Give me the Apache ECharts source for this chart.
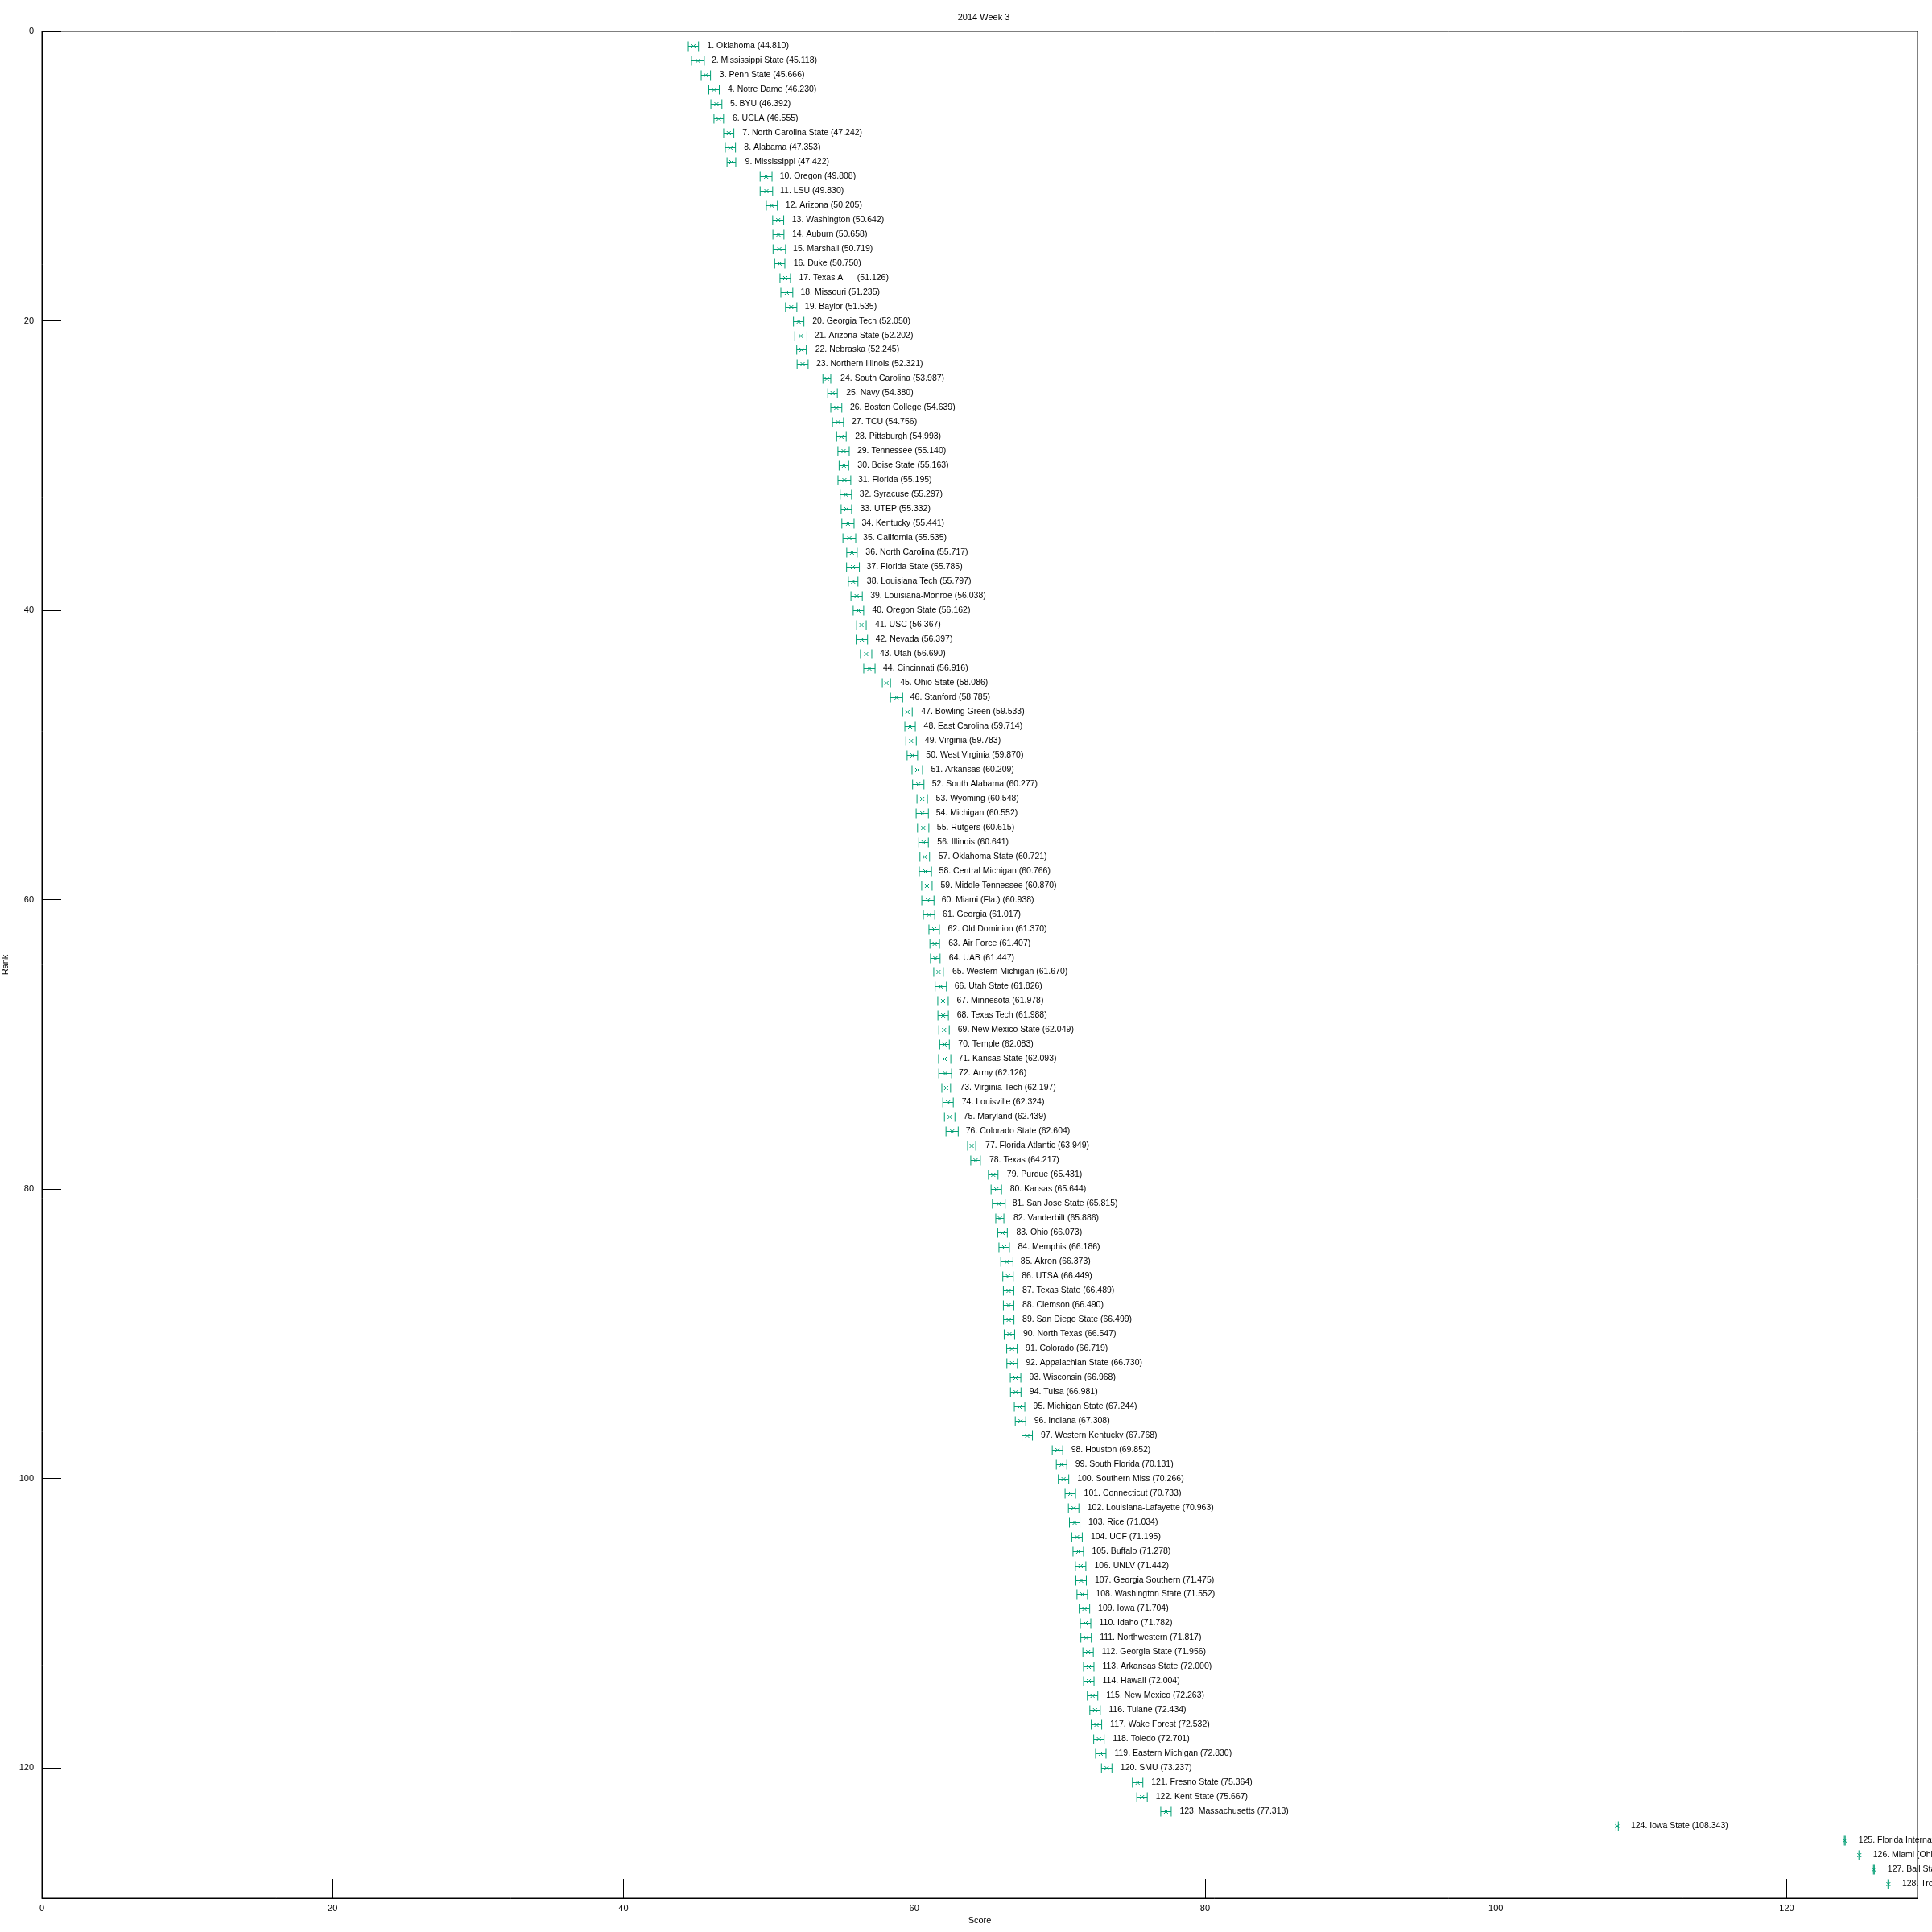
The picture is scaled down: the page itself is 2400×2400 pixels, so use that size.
<!DOCTYPE html>
<html>
<head>
<meta charset="utf-8">
<script src="https://cdn.jsdelivr.net/npm/echarts@6/dist/echarts.min.js"></script>
<style>
html,body{margin:0;padding:0;background:#fff;}
#chart{width:2400px;height:2400px;}
</style>
</head>
<body>
<div id="chart"></div>
<script>
const title = '2014 Week 3';
const tickValues = [0, 20, 40, 60, 80, 100, 120];

const ranks = [1,2,3,4,5,6,7,8,9,10,11,12,13,14,15,16,17,18,19,20,21,22,23,24,25,26,27,28,29,30,31,32,33,34,35,36,37,38,39,40,41,42,43,44,45,46,47,48,49,50,51,52,53,54,55,56,57,58,59,60,61,62,63,64,65,66,67,68,69,70,71,72,73,74,75,76,77,78,79,80,81,82,83,84,85,86,87,88,89,90,91,92,93,94,95,96,97,98,99,100,101,102,103,104,105,106,107,108,109,110,111,112,113,114,115,116,117,118,119,120,121,122,123,124,125,126,127,128];

const teams = ['Oklahoma','Mississippi State','Penn State','Notre Dame','BYU','UCLA','North Carolina State','Alabama','Mississippi','Oregon',
'LSU','Arizona','Washington','Auburn','Marshall','Duke','Texas A     ','Missouri','Baylor','Georgia Tech',
'Arizona State','Nebraska','Northern Illinois','South Carolina','Navy','Boston College','TCU','Pittsburgh','Tennessee','Boise State',
'Florida','Syracuse','UTEP','Kentucky','California','North Carolina','Florida State','Louisiana Tech','Louisiana-Monroe','Oregon State',
'USC','Nevada','Utah','Cincinnati','Ohio State','Stanford','Bowling Green','East Carolina','Virginia','West Virginia',
'Arkansas','South Alabama','Wyoming','Michigan','Rutgers','Illinois','Oklahoma State','Central Michigan','Middle Tennessee','Miami (Fla.)',
'Georgia','Old Dominion','Air Force','UAB','Western Michigan','Utah State','Minnesota','Texas Tech','New Mexico State','Temple',
'Kansas State','Army','Virginia Tech','Louisville','Maryland','Colorado State','Florida Atlantic','Texas','Purdue','Kansas',
'San Jose State','Vanderbilt','Ohio','Memphis','Akron','UTSA','Texas State','Clemson','San Diego State','North Texas',
'Colorado','Appalachian State','Wisconsin','Tulsa','Michigan State','Indiana','Western Kentucky','Houston','South Florida','Southern Miss',
'Connecticut','Louisiana-Lafayette','Rice','UCF','Buffalo','UNLV','Georgia Southern','Washington State','Iowa','Idaho',
'Northwestern','Georgia State','Arkansas State','Hawaii','New Mexico','Tulane','Wake Forest','Toledo','Eastern Michigan','SMU',
'Fresno State','Kent State','Massachusetts','Iowa State','Florida International','Miami (Ohio)','Ball State','Troy'];

const scores = [44.810,45.118,45.666,46.230,46.392,46.555,47.242,47.353,47.422,49.808,
49.830,50.205,50.642,50.658,50.719,50.750,51.126,51.235,51.535,52.050,
52.202,52.245,52.321,53.987,54.380,54.639,54.756,54.993,55.140,55.163,
55.195,55.297,55.332,55.441,55.535,55.717,55.785,55.797,56.038,56.162,
56.367,56.397,56.690,56.916,58.086,58.785,59.533,59.714,59.783,59.870,
60.209,60.277,60.548,60.552,60.615,60.641,60.721,60.766,60.870,60.938,
61.017,61.370,61.407,61.447,61.670,61.826,61.978,61.988,62.049,62.083,
62.093,62.126,62.197,62.324,62.439,62.604,63.949,64.217,65.431,65.644,
65.815,65.886,66.073,66.186,66.373,66.449,66.489,66.490,66.499,66.547,
66.719,66.730,66.968,66.981,67.244,67.308,67.768,69.852,70.131,70.266,
70.733,70.963,71.034,71.195,71.278,71.442,71.475,71.552,71.704,71.782,
71.817,71.956,72.000,72.004,72.263,72.434,72.532,72.701,72.830,73.237,
75.364,75.667,77.313,108.343,124.000,125.000,126.000,127.000];

const errors = [0.35,0.44,0.32,0.36,0.38,0.33,0.35,0.35,0.30,0.41,
0.43,0.38,0.38,0.38,0.43,0.35,0.36,0.41,0.39,0.36,
0.42,0.33,0.38,0.27,0.33,0.38,0.38,0.33,0.39,0.33,
0.44,0.39,0.36,0.42,0.44,0.36,0.44,0.33,0.39,0.36,
0.33,0.39,0.39,0.39,0.28,0.42,0.33,0.36,0.36,0.36,
0.36,0.39,0.36,0.42,0.39,0.33,0.33,0.42,0.36,0.42,
0.39,0.36,0.33,0.33,0.33,0.39,0.36,0.36,0.36,0.33,
0.42,0.44,0.30,0.36,0.36,0.42,0.28,0.33,0.33,0.36,
0.44,0.28,0.33,0.36,0.42,0.36,0.36,0.36,0.36,0.36,
0.36,0.36,0.36,0.36,0.36,0.36,0.36,0.36,0.36,0.36,
0.36,0.36,0.36,0.36,0.36,0.36,0.36,0.36,0.36,0.36,
0.36,0.36,0.36,0.36,0.36,0.36,0.36,0.36,0.36,0.36,
0.36,0.36,0.36,0.08,0.03,0.03,0.03,0.03];

const COLOR = '#009e73';
const FONT = '"Liberation Sans", Arial, sans-serif';

const labels = ranks.map((r, i) => r + '. ' + teams[i] + ' (' + scores[i].toFixed(3) + ')');
const data = scores.map((s, i) => [s, ranks[i], errors[i]]);

const chart = echarts.init(document.getElementById('chart'), null, {renderer: 'canvas'});

const axisCommon = {
  type: 'value', min: 0, max: 129,
  axisLine: {show: true, onZero: false, lineStyle: {color: '#000', width: 1}},
  axisTick: {show: true, inside: true, length: 24, customValues: tickValues, lineStyle: {color: '#000', width: 1}},
  axisLabel: {customValues: tickValues, color: '#000', fontSize: 11, fontFamily: FONT},
  splitLine: {show: false},
  nameLocation: 'middle',
  nameTextStyle: {color: '#000', fontSize: 11, fontFamily: FONT}
};

chart.setOption({
  animation: false,
  backgroundColor: '#fff',
  title: {
    text: title, left: 1217, top: 11, textAlign: 'center',
    textStyle: {color: '#000', fontSize: 11, fontWeight: 'normal', fontFamily: FONT}
  },
  grid: {left: 52, top: 39, right: 18, bottom: 42, show: true, borderColor: '#000', borderWidth: 1,
         containLabel: false, outerBoundsMode: 'none'},
  xAxis: Object.assign({}, axisCommon, {
    position: 'bottom', name: 'Score', nameGap: 19,
    axisLabel: Object.assign({}, axisCommon.axisLabel, {margin: 7})
  }),
  yAxis: Object.assign({}, axisCommon, {
    position: 'left', inverse: true, name: 'Rank', nameGap: 40, nameRotate: 90,
    axisLabel: Object.assign({}, axisCommon.axisLabel, {margin: 10})
  }),
  series: [{
    type: 'custom',
    clip: false,
    data: data,
    encode: {x: 0, y: 1},
    renderItem: function (params, api) {
      const s = api.value(0), r = api.value(1), e = api.value(2);
      const c = api.coord([s, r]);
      const lo = api.coord([s - e, r]);
      const hi = api.coord([s + e, r]);
      const y = Math.round(c[1]) + 0.5;
      const h = 6, m = 2.5;
      const st = {stroke: COLOR, lineWidth: 1, fill: null};
      return {
        type: 'group',
        children: [
          {type: 'line', shape: {x1: lo[0], y1: y, x2: hi[0], y2: y}, style: st},
          {type: 'line', shape: {x1: lo[0], y1: y - h, x2: lo[0], y2: y + h}, style: st},
          {type: 'line', shape: {x1: hi[0], y1: y - h, x2: hi[0], y2: y + h}, style: st},
          {type: 'line', shape: {x1: c[0] - m, y1: y - m, x2: c[0] + m, y2: y + m}, style: st},
          {type: 'line', shape: {x1: c[0] - m, y1: y + m, x2: c[0] + m, y2: y - m}, style: st},
          {type: 'text', x: c[0] + 17, y: y, style: {
            text: labels[params.dataIndex], fill: '#000',
            font: '10.5px ' + FONT, verticalAlign: 'middle', align: 'left'
          }}
        ]
      };
    }
  }]
});
</script>
</body>
</html>
